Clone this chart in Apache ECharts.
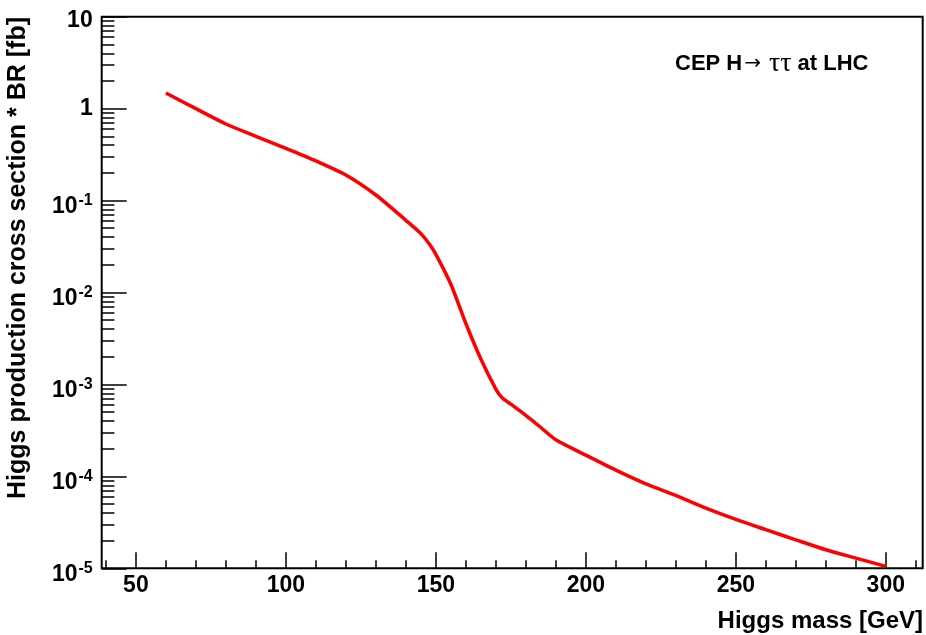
<!DOCTYPE html>
<html>
<head>
<meta charset="utf-8">
<script src="https://cdn.jsdelivr.net/npm/echarts@6/dist/echarts.min.js"></script>
<style>
  html, body { margin: 0; padding: 0; background: #fff; }
  #chart { width: 926px; height: 635px; }
</style>
</head>
<body>
<div id="chart"></div>
<script>
// Higgs mass points [GeV]
const masses = [60, 70, 80, 90, 100, 110, 120, 130, 140, 145, 148, 150, 155, 160, 165, 170, 172, 175, 180, 185, 190, 200, 210, 220, 230, 240, 250, 260, 270, 280, 290, 300];
// CEP H -> tau tau production cross section * BR [fb]
const xsecBR = [1.48, 1.0, 0.68, 0.50, 0.37, 0.27, 0.19, 0.115, 0.061, 0.0437, 0.033, 0.026, 0.0123, 0.0046, 0.00189, 0.00089, 0.00072, 0.00061, 0.00046, 0.00034, 0.00025, 0.00017, 0.000117, 0.000083, 0.000062, 0.000045, 0.000034, 0.0000263, 0.0000204, 0.0000159, 0.0000129, 0.0000105];

// axis ticks
const xMajorTicks = [50, 100, 150, 200, 250, 300];
const xMinorTicks = [40, 60, 70, 80, 90, 110, 120, 130, 140, 160, 170, 180, 190, 210, 220, 230, 240, 260, 270, 280, 290, 310];
const yMajorTicks = [1e-5, 1e-4, 1e-3, 1e-2, 1e-1, 1, 10];
const yMinorTicks = [];
for (let e = -5; e <= 0; e++) {
  for (let k = 2; k <= 9; k++) yMinorTicks.push(k * Math.pow(10, e));
}

const FONT = '"Liberation Sans", Arial, Helvetica, sans-serif';

const data = masses.map((m, i) => [m, xsecBR[i]]);

const chart = echarts.init(document.getElementById('chart'), null, { renderer: 'canvas' });

const tickStyle = { color: '#000', width: 1.5 };

chart.setOption({
  backgroundColor: '#ffffff',
  animation: false,
  textStyle: { fontFamily: FONT },
  grid: {
    left: 101.7, right: 3.3, top: 16.7, bottom: 66.7,
    show: true, borderColor: '#000', borderWidth: 2, backgroundColor: 'transparent'
  },
  xAxis: [
    {
      type: 'value', min: 38.6, max: 312.3,
      axisLine: { show: false },
      splitLine: { show: false },
      axisTick: { inside: true, length: 16, lineStyle: tickStyle, customValues: xMajorTicks },
      axisLabel: {
        customValues: xMajorTicks, margin: 6,
        fontFamily: FONT, fontSize: 23, fontWeight: 'bold', color: '#000'
      }
    },
    {
      type: 'value', min: 38.6, max: 312.3, position: 'bottom',
      axisLine: { show: false },
      splitLine: { show: false },
      axisTick: { inside: true, length: 8, lineStyle: tickStyle, customValues: xMinorTicks },
      axisLabel: { show: false }
    }
  ],
  yAxis: [
    {
      type: 'log', logBase: 10, min: 1e-5, max: 10, position: 'left', offset: 0,
      axisLine: { show: false },
      splitLine: { show: false },
      axisTick: { inside: true, length: 25, lineStyle: tickStyle, customValues: yMajorTicks },
      axisLabel: {
        customValues: yMajorTicks, margin: 9, color: '#000',
        formatter: function (v) {
          const e = Math.round(Math.log10(v));
          if (e === 0) return '{p|1}';
          if (e === 1) return '{t|10}';
          return '{b|10}{s|' + e + '}';
        },
        rich: {
          p: { fontFamily: FONT, fontSize: 23, fontWeight: 'bold', color: '#000' },
          t: { fontFamily: FONT, fontSize: 23, fontWeight: 'bold', color: '#000', padding: [7, 0, 0, 0] },
          b: { fontFamily: FONT, fontSize: 23, fontWeight: 'bold', color: '#000', padding: [13, 0, 0, 0] },
          s: { fontFamily: FONT, fontSize: 16, fontWeight: 'bold', color: '#000', padding: [0, 0, 0, 1] }
        }
      }
    },
    {
      type: 'log', logBase: 10, min: 1e-5, max: 10, position: 'left', offset: 0,
      axisLine: { show: false },
      splitLine: { show: false },
      axisTick: { inside: true, length: 12.7, lineStyle: tickStyle, customValues: yMinorTicks },
      axisLabel: { show: false }
    }
  ],
  title: {
    text: 'Higgs mass [GeV]',
    right: 3, top: 609, padding: 0,
    textStyle: { fontFamily: FONT, fontSize: 24, fontWeight: 'bold', color: '#000' }
  },
  graphic: [
    {
      type: 'text', x: 18, y: 17, rotation: Math.PI / 2,
      style: {
        text: 'Higgs production cross section * BR [fb]',
        font: 'bold 25px ' + FONT, fill: '#000',
        textAlign: 'right', textVerticalAlign: 'middle'
      }
    },
    {
      type: 'text', x: 675, y: 64,
      style: {
        text: '{b|CEP H}{a|\u2192}{g|\u03C4\u03C4}{b| at LHC}',
        textVerticalAlign: 'middle',
        rich: {
          b: { fontFamily: FONT, fontSize: 22, fontWeight: 'bold', color: '#000' },
          a: { fontFamily: '"DejaVu Sans", sans-serif', fontSize: 20, fontWeight: 'normal', color: '#000', padding: [0, 0, 0, 2] },
          g: { fontFamily: '"Liberation Serif", "Times New Roman", serif', fontSize: 28, fontWeight: 'normal', color: '#000', padding: [0, 0, 0, 8] }
        }
      }
    }
  ],
  series: [
    {
      type: 'line', xAxisIndex: 0, yAxisIndex: 0,
      data: data,
      showSymbol: false,
      smooth: 0.25,
      lineStyle: { color: '#ff0000', width: 3.5 },
      itemStyle: { color: '#ff0000' },
      clip: true
    }
  ]
});
</script>
</body>
</html>
